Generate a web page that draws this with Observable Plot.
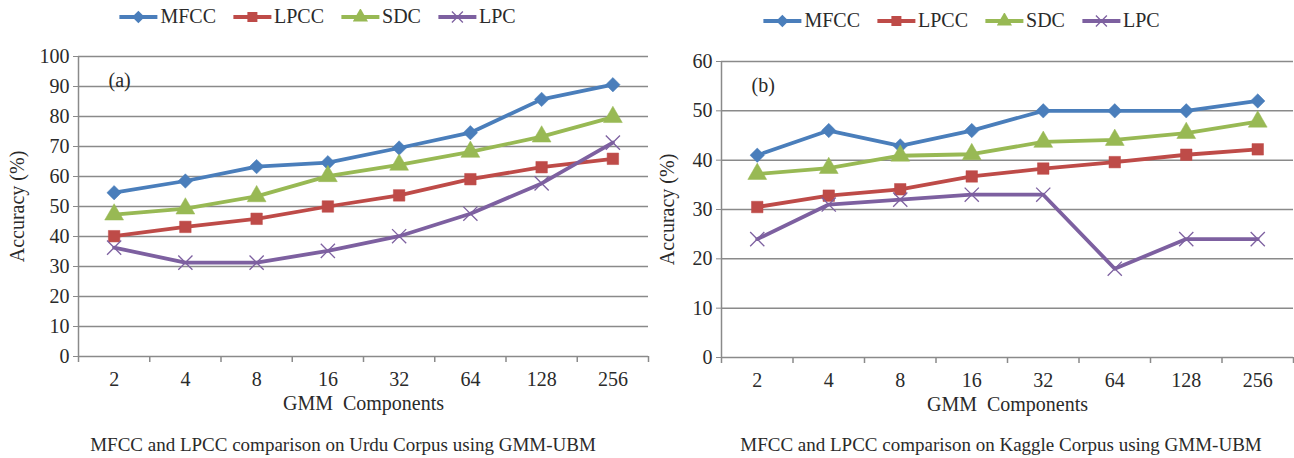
<!DOCTYPE html>
<html><head><meta charset="utf-8">
<script src="https://cdn.jsdelivr.net/npm/d3@7"></script>
<script src="https://cdn.jsdelivr.net/npm/@observablehq/plot@0.6"></script>
<style>
body{margin:0;background:#fff;}
#wrap{position:relative;width:1294px;height:458px;font-family:"Liberation Serif","DejaVu Serif",serif;color:#2a2a2a;overflow:hidden;}
.panel{position:absolute;top:0;}
.panel svg text{font-family:"Liberation Serif","DejaVu Serif",serif;}
.cap{position:absolute;top:434px;font-size:19px;white-space:nowrap;transform:translateX(-50%);}
.legend{position:absolute;display:flex;gap:16px;font-size:20px;transform:translateX(-50%);white-space:nowrap;}
.legend .it{display:flex;align-items:center;gap:2px;}
</style></head><body><div id="wrap"></div>
<script>
// ---- data ----
const components = ["2","4","8","16","32","64","128","256"];
const seriesNames = ["MFCC","LPCC","SDC","LPC"];
const seriesColors = ["#4A7EBB","#BE4B48","#98B954","#7D60A0"];
const seriesSymbols = ["diamond2","square","triangle","times"];

const urduMFCC = [54.6, 58.5, 63.3, 64.6, 69.5, 74.6, 85.7, 90.6];
const urduLPCC = [40.1, 43.2, 45.9, 50.0, 53.7, 59.1, 63.1, 65.9];
const urduSDC  = [47.3, 49.3, 53.4, 60.1, 63.9, 68.2, 73.3, 79.8];
const urduLPC  = [36.3, 31.3, 31.3, 35.2, 40.1, 47.6, 57.7, 71.3];

const kaggleMFCC = [41.0, 46.0, 42.9, 46.0, 50.0, 50.0, 50.0, 52.0];
const kaggleLPCC = [30.5, 32.8, 34.1, 36.7, 38.3, 39.6, 41.1, 42.2];
const kaggleSDC  = [37.2, 38.4, 40.9, 41.2, 43.7, 44.1, 45.5, 47.8];
const kaggleLPC  = [24.0, 31.0, 32.0, 33.0, 33.0, 18.0, 24.0, 24.0];

const urduTicks = [0,10,20,30,40,50,60,70,80,90,100];
const kaggleTicks = [0,10,20,30,40,50,60];

function toRows(seriesArrays){
  const rows = [];
  seriesArrays.forEach((vals, s) => vals.forEach((v, i) => rows.push({i, v, s: seriesNames[s]})));
  return rows;
}

const font = '"Liberation Serif", "DejaVu Serif", serif';
const gridColor = "#8a8a8a";
const textColor = "#2a2a2a";

function makeChart({rows, yTicks, tag, width, marginLeft, marginTop, marginBottom, marginRight, labelOffset}){
  const idx = components.map((_, i) => i);
  const bounds = d3.range(components.length + 1).map(i => i - 0.5);
  const ymax = yTicks[yTicks.length - 1];
  const marks = [
    Plot.gridY(yTicks, {stroke: gridColor, strokeOpacity: 1, strokeWidth: 1.5}),
    Plot.ruleX([bounds[0]], {stroke: gridColor, strokeWidth: 1.5}),
    Plot.axisY(yTicks, {tickSize: 5, tickPadding: 4, stroke: gridColor, fontSize: 19, fill: textColor,
      label: "Accuracy (%)", labelAnchor: "center", labelArrow: "none", labelOffset}),
    Plot.axisX(bounds, {tickSize: 6, tickFormat: () => "", stroke: gridColor, strokeWidth: 1.5, label: null}),
    Plot.axisX(idx, {tickSize: 0, tickPadding: 15, tickFormat: i => components[i], fontSize: 19, fill: textColor,
      label: "GMM  Components", labelAnchor: "center", labelArrow: "none", labelOffset: 53}),
  ];
  seriesNames.forEach((name, s) => {
    const data = rows.filter(d => d.s === name);
    marks.push(Plot.line(data, {x: "i", y: "v", stroke: seriesColors[s], strokeWidth: 3.8}));
    const isTimes = seriesSymbols[s] === "times";
    marks.push(Plot.dot(data, {x: "i", y: "v", symbol: () => seriesSymbols[s],
      r: isTimes ? 6.5 : (s === 2 ? 7 : 6.5), fill: isTimes ? "none" : seriesColors[s],
      stroke: seriesColors[s], strokeWidth: isTimes ? 1.3 : 0.5}));
  });
  marks.push(Plot.text([tag], {frameAnchor: "top-left", dx: 30, dy: 16, fontSize: 20, fill: textColor}));
  const svg = Plot.plot({
    width, height: 420, marginLeft, marginTop, marginBottom, marginRight,
    style: {fontFamily: font, background: "transparent", color: textColor},
    x: {type: "linear", domain: [bounds[0], bounds[bounds.length - 1]]},
    y: {domain: [0, ymax]},
    symbol: {type: "identity"},
    marks
  });
  d3.select(svg).selectAll("g[aria-label$='label'] text, g[aria-label='y-axis label'] text, g[aria-label='x-axis label'] text")
    .attr("font-size", 20);
  return svg;
}

const wrap = document.getElementById("wrap");

function addPanel(el, left){
  const d = document.createElement("div");
  d.className = "panel"; d.style.left = left + "px";
  d.appendChild(el); wrap.appendChild(d);
}

addPanel(makeChart({rows: toRows([urduMFCC, urduLPCC, urduSDC, urduLPC]), yTicks: urduTicks, tag: "(a)",
  width: 650, marginLeft: 78, marginRight: 2, marginTop: 56, marginBottom: 64, labelOffset: 69}), 0);
addPanel(makeChart({rows: toRows([kaggleMFCC, kaggleLPCC, kaggleSDC, kaggleLPC]), yTicks: kaggleTicks, tag: "(b)",
  width: 644, marginLeft: 71, marginRight: 1, marginTop: 61, marginBottom: 63, labelOffset: 62}), 650);

function addLegend(cx, top){
  const lg = document.createElement("div");
  lg.className = "legend"; lg.style.left = cx + "px"; lg.style.top = top + "px";
  const map = {diamond2: d3.symbolDiamond2 || d3.symbolSquare2, square: d3.symbolSquare, triangle: d3.symbolTriangle, times: d3.symbolTimes || d3.symbolX};
  seriesNames.forEach((name, s) => {
    const it = document.createElement("div"); it.className = "it";
    const svg = d3.create("svg").attr("width", 40).attr("height", 16);
    svg.append("line").attr("x1", 1).attr("x2", 39).attr("y1", 8).attr("y2", 8)
      .attr("stroke", seriesColors[s]).attr("stroke-width", 3.8);
    const t = map[seriesSymbols[s]];
    const size = seriesSymbols[s] === "times" ? 80 : 100;
    const p = svg.append("path").attr("d", d3.symbol(t, size)()).attr("transform", "translate(20,8)");
    if (seriesSymbols[s] === "times") p.attr("fill", "none").attr("stroke", seriesColors[s]).attr("stroke-width", 1.3);
    else p.attr("fill", seriesColors[s]);
    it.appendChild(svg.node());
    const tx = document.createElement("span"); tx.textContent = name;
    it.appendChild(tx); lg.appendChild(it);
  });
  wrap.appendChild(lg);
}
addLegend(317, 5);
addLegend(961, 9);

function addCaption(cx, text){
  const c = document.createElement("div"); c.className = "cap";
  c.style.left = cx + "px"; c.textContent = text; wrap.appendChild(c);
}
addCaption(343, "MFCC and LPCC comparison on Urdu Corpus using GMM-UBM");
addCaption(1001, "MFCC and LPCC comparison on Kaggle Corpus using GMM-UBM");
</script></body></html>
